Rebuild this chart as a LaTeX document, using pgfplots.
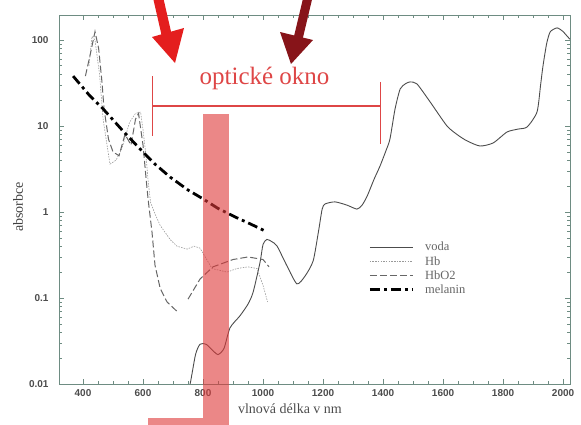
\documentclass[border=0pt]{standalone}
\usepackage{fontspec}
\setmainfont{Liberation Serif}
\newfontfamily\ticksf{Liberation Sans}
\usepackage{pgfplots}
\pgfplotsset{compat=1.18}
\definecolor{ramec}{RGB}{110,140,130}
\definecolor{okno}{RGB}{222,70,70}
\definecolor{sipka}{RGB}{228,30,30}
\definecolor{sipkatm}{RGB}{135,20,25}
\definecolor{pruh}{RGB}{222,55,55}

\begin{document}
\begin{tikzpicture}
\begin{axis}[
    scale only axis,
    width=511pt, height=369pt,
    xmin=320, xmax=2023,
    ymode=log, ymin=0.01, ymax=195,
    xtick={400,600,...,2000},
    minor x tick num=3,
    ytick={0.01,0.1,1,10,100},
    yticklabels={0.01,0.1,1,10,100},
    axis line style={ramec, line width=0.9pt},
    every tick/.style={ramec, line width=0.7pt},
    major tick length=5pt, minor tick length=3pt,
    tick label style={font=\ticksf\bfseries\fontsize{10}{10}\selectfont, text=black!70},
    yticklabel style={xshift=-7pt},
    xticklabel style={yshift=-2pt},
    /pgf/number format/assume math mode=true,
    /pgf/number format/1000 sep={},
    clip mode=individual,
    unbounded coords=jump,
    legend style={at={(0.605,0.39)}, anchor=north west, draw=none, fill=none,
      font=\fontsize{12.5}{12.5}\selectfont, text=black!60, row sep=0pt, inner sep=0pt,
      cells={anchor=west}, /tikz/every odd column/.append style={column sep=9pt}},
    legend image code/.code={\draw[#1] (0pt,0pt) -- (43pt,0pt);},
  ]
  % voda
  \addplot[black!70, line width=0.9pt, smooth, tension=0.4] coordinates {
      (740,0.006) (757,0.01) (775,0.022) (790,0.029) (810,0.029) (830,0.025)
      (850,0.022) (870,0.026) (890,0.045) (923,0.062) (950,0.085) (967,0.117)
      (990,0.26) (1000,0.42) (1013,0.48) (1030,0.45) (1047,0.40) (1080,0.235)
      (1113,0.146) (1140,0.18) (1167,0.27) (1185,0.6) (1197,1.08) (1207,1.24)
      (1240,1.31) (1280,1.2) (1313,1.08) (1330,1.2) (1347,1.53) (1370,2.4)
      (1390,3.43) (1410,5.2) (1423,7.06) (1440,15.8) (1457,26.9) (1475,31)
      (1490,32.5) (1513,30.8) (1557,19.0) (1613,10.0) (1650,7.8) (1680,6.7)
      (1723,5.85) (1767,6.35) (1813,8.5) (1850,9.2) (1880,9.73) (1913,14.5)
      (1925,30) (1933,49.9) (1945,90) (1957,124) (1980,138) (2000,125)
      (2013,111) (2023,102)
    };
  \addlegendentry{voda}
  % Hb
  \addplot[black!40, line width=0.6pt, dash pattern=on 1.5pt off 1.2pt] coordinates {
      (420,50) (430,110) (440,100) (455,40) (467,12) (480,6) (490,3.6) (510,4)
      (530,5.5) (555,11) (575,14) (592,14.5) (600,9) (610,4.5) (617,2.3)
      (625,1.3) (640,0.95) (657,0.7) (690,0.48) (713,0.4) (747,0.37) (770,0.4)
      (790,0.38) (830,0.22) (880,0.2) (913,0.22) (950,0.23) (980,0.22)
      (1000,0.14) (1015,0.09)
    };
  \addlegendentry{Hb}
  % HbO2
  \addplot[black!60, line width=1pt, dash pattern=on 7pt off 3pt] coordinates {
      (408,38) (425,70) (440,125) (452,80) (463,33) (470,16) (485,7) (500,5)
      (520,4.5) (540,8) (560,6) (575,12) (585,14) (600,6) (610,2.5) (617,1.4)
      (630,0.58) (640,0.24) (657,0.13) (680,0.09) (713,0.07) (730,nan)
      (750,0.097) (790,0.166) (833,0.23) (900,0.28) (950,0.3) (1000,0.28)
      (1020,0.23)
    };
  \addlegendentry{HbO2}
  % melanin
  \addplot[black, line width=2.8pt, dash pattern=on 10pt off 4pt on 3pt off 4pt] coordinates {
      (367,38) (420,23) (467,15.8) (530,9) (590,5.4) (640,3.6) (690,2.55)
      (750,1.8) (800,1.42) (850,1.1) (907,0.875) (960,0.72) (1007,0.6)
    };
  \addlegendentry{melanin}

  % popisky os
  \node[font=\fontsize{14}{14}\selectfont, text=black!70] at (rel axis cs:0.452,-0.068) {vlnová délka v nm};
  \node[rotate=90, font=\fontsize{14}{14}\selectfont, text=black!75] at (rel axis cs:-0.08,0.48) {absorbce};

  % opticke okno
  \draw[okno, line width=1.2pt] (axis cs:632,38) -- (axis cs:632,7.65);
  \draw[okno, line width=1.2pt] (axis cs:632,17.1) -- (axis cs:1392,17.1);
  \draw[okno, line width=1.2pt] (axis cs:1392,32.5) -- (axis cs:1392,6.18);
  \node[text=okno, font=\fontsize{25}{25}\selectfont] at (axis cs:1005,36) {optické okno};

  % pruh
  \fill[pruh, opacity=0.6] (rel axis cs:0.2819,-0.13) rectangle (axis cs:888,13.8);
  \fill[pruh, opacity=0.6] (rel axis cs:0.1744,-0.13) rectangle (rel axis cs:0.2819,-0.092);

  % sipky
  \draw[sipka, line width=10pt] (rel axis cs:0.1918,1.06) -- (rel axis cs:0.2133,0.93);
  \fill[sipka] (rel axis cs:0.182,0.9404) -- (rel axis cs:0.2446,0.9648) -- (rel axis cs:0.227,0.8699) -- cycle;
  \draw[sipkatm, line width=9pt] (rel axis cs:0.4892,1.06) -- (rel axis cs:0.4677,0.935);
  \fill[sipkatm] (rel axis cs:0.4325,0.9539) -- (rel axis cs:0.4971,0.9322) -- (rel axis cs:0.454,0.8672) -- cycle;

  \coordinate (bbsw) at (rel axis cs:-0.11546,-0.11111);
  \coordinate (bbne) at (rel axis cs:1.02153,1.04065);
\end{axis}
\pgfresetboundingbox
\path (bbsw) rectangle (bbne);
\end{tikzpicture}
\end{document}
